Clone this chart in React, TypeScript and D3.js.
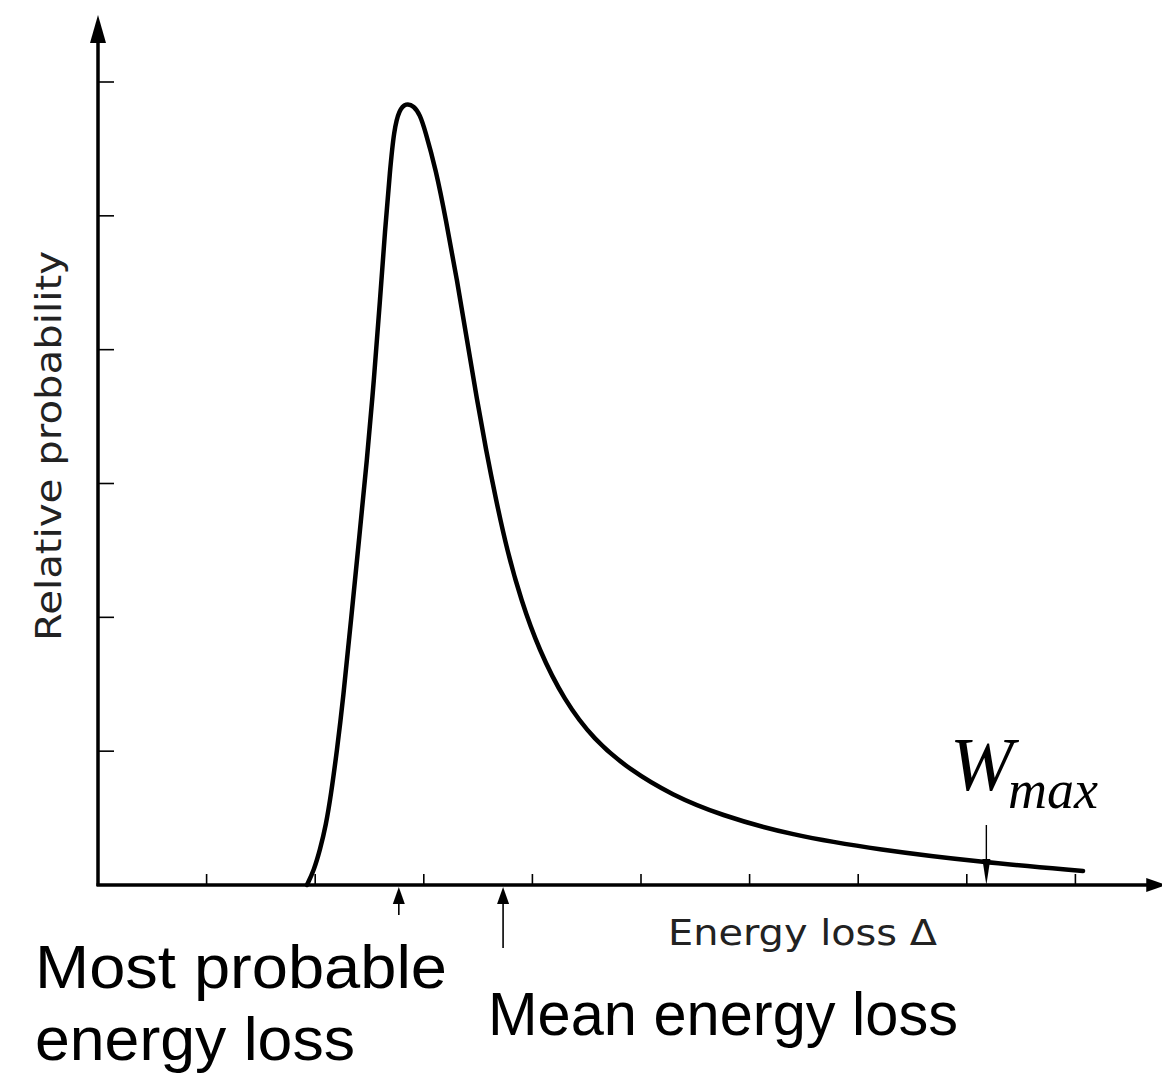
import React, { useEffect, useRef } from "react";
import * as d3 from "d3";

// Landau-like straggling curve (arbitrary units)
const energyLoss = [
  1.924, 1.989, 2.044, 2.099, 2.145, 2.201, 2.256, 2.33, 2.403, 2.477, 2.541,
  2.597, 2.643, 2.689, 2.726, 2.772, 2.836, 2.91, 2.965, 3.011, 3.112, 3.204,
  3.306, 3.398, 3.49, 3.573, 3.665, 3.766, 3.895, 4.061, 4.291, 4.567, 4.899,
  5.285, 5.727, 6.372, 7.201, 8.122, 9.07,
];
const probability = [
  0, 0.112, 0.262, 0.448, 0.672, 1.009, 1.382, 1.98, 2.578, 3.176, 3.773,
  4.371, 4.894, 5.343, 5.642, 5.791, 5.843, 5.821, 5.754, 5.642, 5.343, 4.969,
  4.521, 4.072, 3.624, 3.25, 2.877, 2.503, 2.13, 1.756, 1.382, 1.083, 0.859,
  0.672, 0.523, 0.374, 0.262, 0.172, 0.105,
];

const xTicks = [1, 2, 3, 4, 5, 6, 7, 8, 9];
const yTicks = [1, 2, 3, 4, 5, 6];

// marked energies below / above the axis
const mostProbable = 2.77;
const meanLoss = 3.73;
const wMax = 8.18;

const W = 1162;
const H = 1074;

export default function App() {
  const ref = useRef<SVGSVGElement>(null);

  useEffect(() => {
    const svg = d3.select(ref.current);
    svg.selectAll("*").remove();

    const x = d3.scaleLinear().domain([0, 10]).range([98, 1184]);
    const y = d3.scaleLinear().domain([0, 6]).range([885, 82]);

    const x0 = x(0);
    const y0 = y(0);
    const xEnd = x(9.8);
    const yEnd = y(6.5);

    // axes
    svg
      .append("line")
      .attr("x1", x0)
      .attr("y1", y0 + 1)
      .attr("x2", x0)
      .attr("y2", yEnd + 20)
      .attr("stroke", "#000")
      .attr("stroke-width", 3.5);
    svg
      .append("path")
      .attr("d", `M${x0},${yEnd} L${x0 - 8},${yEnd + 28} L${x0 + 8},${yEnd + 28} Z`)
      .attr("fill", "#000");

    svg
      .append("line")
      .attr("x1", x0 - 1.5)
      .attr("y1", y0)
      .attr("x2", xEnd - 12)
      .attr("y2", y0)
      .attr("stroke", "#000")
      .attr("stroke-width", 3.5);
    svg
      .append("path")
      .attr("d", `M${xEnd + 4},${y0} L${xEnd - 16},${y0 - 7} L${xEnd - 16},${y0 + 7} Z`)
      .attr("fill", "#000");

    svg
      .selectAll(".ytick")
      .data(yTicks)
      .join("line")
      .attr("x1", x0)
      .attr("x2", x0 + 16)
      .attr("y1", d => y(d))
      .attr("y2", d => y(d))
      .attr("stroke", "#000")
      .attr("stroke-width", 1.6);

    svg
      .selectAll(".xtick")
      .data(xTicks)
      .join("line")
      .attr("x1", d => x(d))
      .attr("x2", d => x(d))
      .attr("y1", y0)
      .attr("y2", y0 - 11)
      .attr("stroke", "#000")
      .attr("stroke-width", 1.6);

    // curve
    const pts: [number, number][] = energyLoss.map((e, i) => [e, probability[i]]);
    const line = d3
      .line<[number, number]>()
      .x(d => x(d[0]))
      .y(d => y(d[1]))
      .curve(d3.curveBasis);
    svg
      .append("path")
      .attr("d", line(pts))
      .attr("fill", "none")
      .attr("stroke", "#000")
      .attr("stroke-width", 4.5)
      .attr("stroke-linecap", "round")
      .attr("stroke-linejoin", "round");

    // up arrows under the axis
    const upArrow = (v: number, len: number) => {
      const px = x(v);
      svg
        .append("line")
        .attr("x1", px)
        .attr("x2", px)
        .attr("y1", y0 + 12)
        .attr("y2", y0 + len)
        .attr("stroke", "#000")
        .attr("stroke-width", 1.6);
      svg
        .append("path")
        .attr("d", `M${px},${y0 + 2} L${px - 6},${y0 + 19} L${px + 6},${y0 + 19} Z`)
        .attr("fill", "#000");
    };
    upArrow(mostProbable, 30);
    upArrow(meanLoss, 63);

    // W_max marker pointing down onto the axis
    const wx = x(wMax);
    svg
      .append("line")
      .attr("x1", wx)
      .attr("x2", wx)
      .attr("y1", y0 - 60)
      .attr("y2", y0 - 20)
      .attr("stroke", "#000")
      .attr("stroke-width", 1.4);
    svg
      .append("path")
      .attr("d", `M${wx},${y0} L${wx - 4},${y0 - 26} L${wx + 4},${y0 - 26} Z`)
      .attr("fill", "#000");

    // axis labels
    svg
      .append("text")
      .attr("transform", `translate(61,446) rotate(-90)`)
      .attr("text-anchor", "middle")
      .attr("font-family", "DejaVu Sans")
      .attr("font-size", 36)
      .attr("textLength", 390)
      .attr("lengthAdjust", "spacingAndGlyphs")
      .attr("fill", "#222")
      .text("Relative probability");

    svg
      .append("text")
      .attr("x", 668)
      .attr("y", 945)
      .attr("font-family", "DejaVu Sans")
      .attr("font-size", 36)
      .attr("textLength", 269)
      .attr("lengthAdjust", "spacingAndGlyphs")
      .attr("fill", "#222")
      .text("Energy loss Δ");

    // annotations
    const big = svg
      .append("text")
      .attr("font-family", "Liberation Sans")
      .attr("font-size", 62)
      .attr("fill", "#000");
    big
      .append("tspan")
      .attr("x", 35)
      .attr("y", 988)
      .attr("textLength", 412)
      .attr("lengthAdjust", "spacingAndGlyphs")
      .text("Most probable");
    big
      .append("tspan")
      .attr("x", 35)
      .attr("y", 1060)
      .attr("textLength", 320)
      .attr("lengthAdjust", "spacingAndGlyphs")
      .text("energy loss");

    svg
      .append("text")
      .attr("x", 488)
      .attr("y", 1035)
      .attr("font-family", "Liberation Sans")
      .attr("font-size", 62)
      .attr("textLength", 470)
      .attr("lengthAdjust", "spacingAndGlyphs")
      .attr("fill", "#000")
      .text("Mean energy loss");

    const wl = svg
      .append("text")
      .attr("font-family", "Liberation Serif")
      .attr("font-style", "italic")
      .attr("fill", "#000");
    wl.append("tspan").attr("x", 950).attr("y", 790).attr("font-size", 76).text("W");
    wl.append("tspan").attr("x", 1008).attr("y", 808).attr("font-size", 54).text("max");
  }, []);

  return (
    <svg
      ref={ref}
      width={W}
      height={H}
      style={{ position: "absolute", left: 0, top: 0, background: "#fff" }}
    />
  );
}
